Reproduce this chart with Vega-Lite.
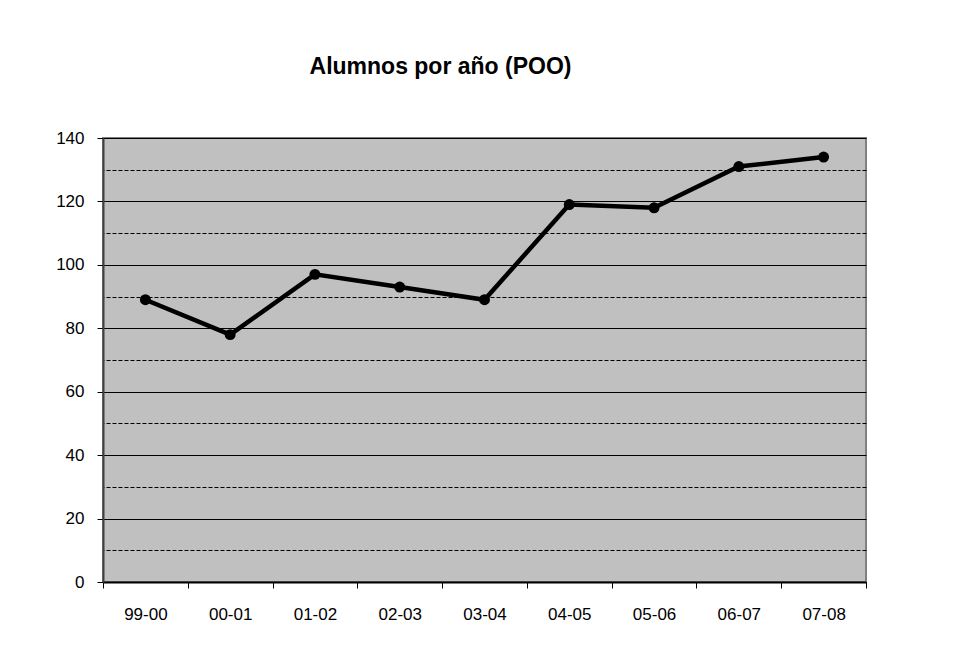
{
  "$schema": "https://vega.github.io/schema/vega-lite/v6.json",
  "width": 763,
  "height": 444,
  "autosize": {"type": "none"},
  "padding": {"left": 103, "top": 138, "right": 102, "bottom": 86},
  "background": "white",
  "title": {
    "text": "Alumnos por año (POO)",
    "font": "Liberation Sans",
    "fontSize": 23,
    "fontWeight": "bold",
    "color": "black",
    "anchor": "middle",
    "dx": -44,
    "offset": 50
  },
  "config": {
    "view": {"fill": "#C0C0C0", "stroke": "#808080", "strokeWidth": 2},
    "axis": {"labelFont": "Liberation Sans", "labelFontSize": 17, "labelColor": "black"}
  },
  "data": {
    "values": [
      {"curso": "99-00", "alumnos": 89},
      {"curso": "00-01", "alumnos": 78},
      {"curso": "01-02", "alumnos": 97},
      {"curso": "02-03", "alumnos": 93},
      {"curso": "03-04", "alumnos": 89},
      {"curso": "04-05", "alumnos": 119},
      {"curso": "05-06", "alumnos": 118},
      {"curso": "06-07", "alumnos": 131},
      {"curso": "07-08", "alumnos": 134}
    ]
  },
  "encoding": {
    "x": {
      "field": "curso",
      "type": "ordinal",
      "sort": null,
      "bandPosition": 0.5,
      "scale": {"type": "band", "paddingInner": 0, "paddingOuter": 0},
      "axis": {
        "title": null,
        "labelAngle": 0,
        "tickBand": "extent",
        "tickSize": 6,
        "tickColor": "black",
        "domainColor": "black",
        "domainWidth": 2,
        "labelPadding": 18,
        "grid": false
      }
    }
  },
  "layer": [
    {
      "mark": {"type": "line", "color": "black", "strokeWidth": 4.5},
      "encoding": {
        "y": {
          "field": "alumnos",
          "type": "quantitative",
          "scale": {"domain": [0, 140], "nice": false},
          "axis": {
            "title": null,
            "values": [0, 20, 40, 60, 80, 100, 120, 140],
            "grid": true,
            "gridColor": "black",
            "gridWidth": 1.2,
            "gridOpacity": 1,
            "tickSize": 6,
            "tickColor": "black",
            "domainColor": "#404040",
            "domainWidth": 2,
            "labelPadding": 13
          }
        }
      }
    },
    {
      "mark": {"type": "point", "filled": true, "color": "black", "opacity": 1, "size": 120},
      "encoding": {
        "y": {
          "field": "alumnos",
          "type": "quantitative",
          "axis": {
            "orient": "right",
            "title": null,
            "values": [10, 30, 50, 70, 90, 110, 130],
            "grid": true,
            "gridColor": "black",
            "gridWidth": 1,
            "gridDash": [4, 2],
            "gridOpacity": 1,
            "labels": false,
            "ticks": false,
            "domain": false
          }
        }
      }
    }
  ],
  "resolve": {"axis": {"y": "independent"}}
}
